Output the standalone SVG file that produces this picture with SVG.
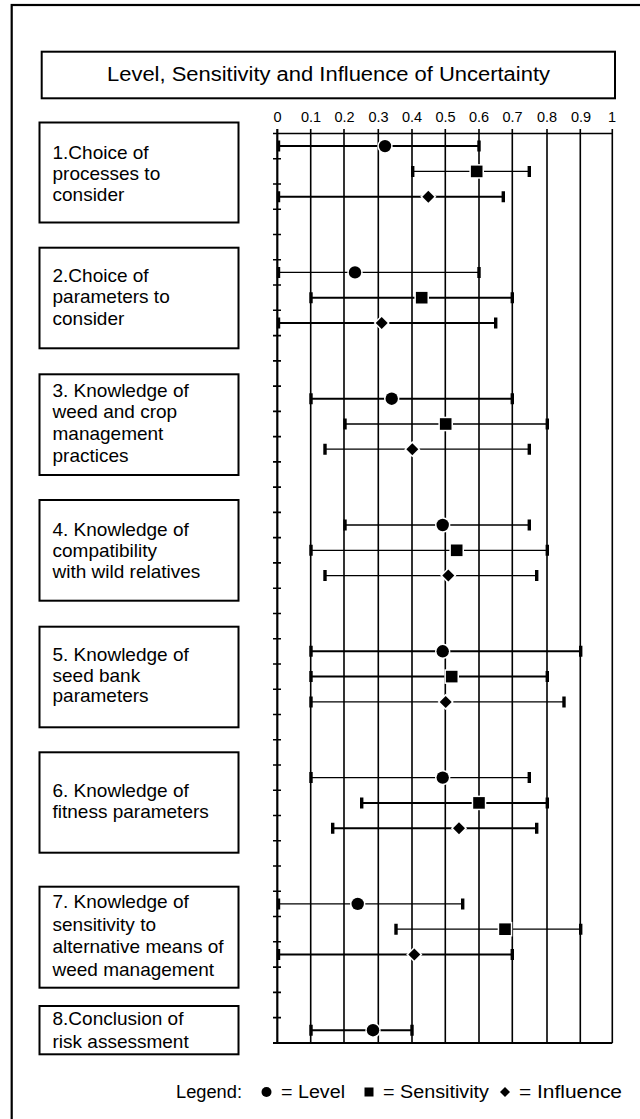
<svg xmlns="http://www.w3.org/2000/svg" width="640" height="1119" viewBox="0 0 640 1119">
<style>
  text { font-family: "Liberation Sans", Arial, Helvetica, sans-serif; fill: #000; }
  .frame { fill: none; stroke: #000; stroke-width: 2.2; }
  .box { fill: #fff; stroke: #000; stroke-width: 2; }
  .lbl { font-size: 19px; }
  .title { font-size: 20px; }
  .ax { font-size: 14.5px; text-anchor: middle; }
  .leg { font-size: 18px; }
  .grid { stroke: #000; stroke-width: 1.6; fill: none; }
  .axis { stroke: #000; stroke-width: 2.2; fill: none; }
  .bar { stroke: #000; stroke-width: 2; }
  .thin { stroke-width: 1.3; }
  .cap { stroke: #000; stroke-width: 3.4; }
</style>
<defs>
  <circle id="m-level" r="6.2" fill="#000" stroke="#fff" stroke-width="3" paint-order="stroke"/>
  <rect id="m-sens" x="-5.8" y="-5.8" width="11.6" height="11.6" fill="#000" stroke="#fff" stroke-width="3" paint-order="stroke"/>
  <path id="m-infl" d="M0,-6 L6,0 L0,6 L-6,0 Z" fill="#000" stroke="#fff" stroke-width="3" paint-order="stroke"/>
</defs>

<rect width="640" height="1119" fill="#fff"/>
<!-- outer frame (right and bottom run past the page edge) -->
<rect class="frame" x="11.7" y="5" width="700" height="1200"/>

<!-- title -->
<g id="title">
  <rect class="box" x="41.7" y="51.7" width="573.3" height="46.6"/>
  <text class="title" x="107" y="81" textLength="443" lengthAdjust="spacingAndGlyphs">Level, Sensitivity and Influence of Uncertainty</text>
</g>

<!-- scale labels -->
<g id="scale-labels">
  <text class="ax" x="277.5" y="121.7">0</text>
  <text class="ax" x="311" y="121.7">0.1</text>
  <text class="ax" x="344.5" y="121.7">0.2</text>
  <text class="ax" x="378.5" y="121.7">0.3</text>
  <text class="ax" x="412" y="121.7">0.4</text>
  <text class="ax" x="445.5" y="121.7">0.5</text>
  <text class="ax" x="479" y="121.7">0.6</text>
  <text class="ax" x="512.5" y="121.7">0.7</text>
  <text class="ax" x="547" y="121.7">0.8</text>
  <text class="ax" x="581" y="121.7">0.9</text>
  <text class="ax" x="612" y="121.7">1</text>
</g>

<!-- grid and axes -->
<g id="grid">
  <path class="grid" d="M310.7,129V1043 M344,129V1043 M378.3,129V1043 M412,129V1043 M445.3,129V1043 M479,129V1043 M512.3,129V1043 M547,129V1043 M580.3,129V1043 M612.3,129V1043"/>
  <path class="axis" d="M277.3,129V1043"/>
  <path class="grid" stroke-width="1.8" d="M273,133.5H612.3"/>
  <path class="axis" d="M273,1043H612.3"/>
  <path class="grid" d="M273,158.76h8 M273,184.02h8 M273,209.28h8 M273,234.54h8 M273,259.8h8 M273,285.06h8 M273,310.32h8 M273,335.58h8 M273,360.84h8 M273,386.1h8 M273,411.36h8 M273,436.62h8 M273,461.88h8 M273,487.14h8 M273,512.4h8 M273,537.66h8 M273,562.92h8 M273,588.18h8 M273,613.44h8 M273,638.7h8 M273,663.96h8 M273,689.22h8 M273,714.48h8 M273,739.74h8 M273,765h8 M273,790.26h8 M273,815.52h8 M273,840.78h8 M273,866.04h8 M273,891.3h8 M273,916.56h8 M273,941.82h8 M273,967.08h8 M273,992.34h8 M273,1017.6h8"/>
</g>

<!-- category boxes -->
<g id="cat-1">
  <rect class="box" x="39.5" y="122.5" width="199" height="100"/>
  <text class="lbl" x="52.5" y="158.5">1.Choice of</text>
  <text class="lbl" x="52.5" y="180">processes to</text>
  <text class="lbl" x="52.5" y="201">consider</text>
</g>
<g id="cat-2">
  <rect class="box" x="39.5" y="247.7" width="199" height="100.6"/>
  <text class="lbl" x="52.5" y="281.7">2.Choice of</text>
  <text class="lbl" x="52.5" y="303.3">parameters to</text>
  <text class="lbl" x="52.5" y="325">consider</text>
</g>
<g id="cat-3">
  <rect class="box" x="39.5" y="374.3" width="199" height="100.7"/>
  <text class="lbl" x="52.5" y="396.7">3. Knowledge of</text>
  <text class="lbl" x="52.5" y="418.3">weed and crop</text>
  <text class="lbl" x="52.5" y="440">management</text>
  <text class="lbl" x="52.5" y="461.7">practices</text>
</g>
<g id="cat-4">
  <rect class="box" x="39.5" y="500" width="199" height="100.7"/>
  <text class="lbl" x="52.5" y="535.7">4. Knowledge of</text>
  <text class="lbl" x="52.5" y="556.7">compatibility</text>
  <text class="lbl" x="52.5" y="577.5">with wild relatives</text>
</g>
<g id="cat-5">
  <rect class="box" x="39.5" y="626.7" width="199" height="100.6"/>
  <text class="lbl" x="52.5" y="661">5. Knowledge of</text>
  <text class="lbl" x="52.5" y="681.7">seed bank</text>
  <text class="lbl" x="52.5" y="702.3">parameters</text>
</g>
<g id="cat-6">
  <rect class="box" x="39.5" y="752.3" width="199" height="100.4"/>
  <text class="lbl" x="52.5" y="796.7">6. Knowledge of</text>
  <text class="lbl" x="52.5" y="817.7">fitness parameters</text>
</g>
<g id="cat-7">
  <rect class="box" x="39.5" y="886.7" width="199" height="101"/>
  <text class="lbl" x="52.5" y="908.3">7. Knowledge of</text>
  <text class="lbl" x="52.5" y="930.5">sensitivity to</text>
  <text class="lbl" x="52.5" y="953">alternative means of</text>
  <text class="lbl" x="52.5" y="975.5">weed management</text>
</g>
<g id="cat-8">
  <rect class="box" x="39.5" y="1006" width="199" height="48.3"/>
  <text class="lbl" x="52.5" y="1025">8.Conclusion of</text>
  <text class="lbl" x="52.5" y="1047.5">risk assessment</text>
</g>

<!-- ranges: bar, end caps, marker -->
<g id="ranges-1">
  <line class="bar" x1="277.3" y1="146.1" x2="479" y2="146.1"/>
  <path class="cap" d="M278.5,140.6v11 M479,140.6v11"/>
  <use href="#m-level" x="385" y="146.1"/>
  <line class="bar thin" x1="412.7" y1="171.4" x2="529.3" y2="171.4"/>
  <path class="cap" d="M412.7,165.9v11 M529.3,165.9v11"/>
  <use href="#m-sens" x="476.7" y="171.4"/>
  <line class="bar" x1="277.3" y1="196.7" x2="503.3" y2="196.7"/>
  <path class="cap" d="M278.5,191.2v11 M503.3,191.2v11"/>
  <use href="#m-infl" x="428.3" y="196.7"/>
</g>
<g id="ranges-2">
  <line class="bar thin" x1="277.3" y1="272.4" x2="479" y2="272.4"/>
  <path class="cap" d="M278.5,266.9v11 M479,266.9v11"/>
  <use href="#m-level" x="355" y="272.4"/>
  <line class="bar" x1="311" y1="297.7" x2="512.3" y2="297.7"/>
  <path class="cap" d="M311,292.2v11 M512.3,292.2v11"/>
  <use href="#m-sens" x="421.7" y="297.7"/>
  <line class="bar" x1="277.3" y1="323" x2="495.7" y2="323"/>
  <path class="cap" d="M278.5,317.5v11 M495.7,317.5v11"/>
  <use href="#m-infl" x="381.7" y="323"/>
</g>
<g id="ranges-3">
  <line class="bar" x1="311" y1="398.7" x2="512.3" y2="398.7"/>
  <path class="cap" d="M311,393.2v11 M512.3,393.2v11"/>
  <use href="#m-level" x="391.7" y="398.7"/>
  <line class="bar thin" x1="345" y1="424" x2="547.3" y2="424"/>
  <path class="cap" d="M345,418.5v11 M547.3,418.5v11"/>
  <use href="#m-sens" x="445.7" y="424"/>
  <line class="bar thin" x1="325" y1="449.2" x2="529.3" y2="449.2"/>
  <path class="cap" d="M325,443.7v11 M529.3,443.7v11"/>
  <use href="#m-infl" x="412.3" y="449.2"/>
</g>
<g id="ranges-4">
  <line class="bar thin" x1="345" y1="525" x2="529.3" y2="525"/>
  <path class="cap" d="M345,519.5v11 M529.3,519.5v11"/>
  <use href="#m-level" x="442.7" y="525"/>
  <line class="bar thin" x1="311" y1="550.3" x2="547.3" y2="550.3"/>
  <path class="cap" d="M311,544.8v11 M547.3,544.8v11"/>
  <use href="#m-sens" x="456.7" y="550.3"/>
  <line class="bar thin" x1="325" y1="575.6" x2="536.7" y2="575.6"/>
  <path class="cap" d="M325,570.1v11 M536.7,570.1v11"/>
  <use href="#m-infl" x="448.3" y="575.6"/>
</g>
<g id="ranges-5">
  <line class="bar" x1="311" y1="651.3" x2="580.7" y2="651.3"/>
  <path class="cap" d="M311,645.8v11 M580.7,645.8v11"/>
  <use href="#m-level" x="442.7" y="651.3"/>
  <line class="bar" x1="311" y1="676.6" x2="547.3" y2="676.6"/>
  <path class="cap" d="M311,671.1v11 M547.3,671.1v11"/>
  <use href="#m-sens" x="451.7" y="676.6"/>
  <line class="bar thin" x1="311" y1="701.9" x2="564" y2="701.9"/>
  <path class="cap" d="M311,696.4v11 M564,696.4v11"/>
  <use href="#m-infl" x="445.7" y="701.9"/>
</g>
<g id="ranges-6">
  <line class="bar thin" x1="311" y1="777.6" x2="529.3" y2="777.6"/>
  <path class="cap" d="M311,772.1v11 M529.3,772.1v11"/>
  <use href="#m-level" x="442.7" y="777.6"/>
  <line class="bar" x1="361.7" y1="802.9" x2="547.3" y2="802.9"/>
  <path class="cap" d="M361.7,797.4v11 M547.3,797.4v11"/>
  <use href="#m-sens" x="479" y="802.9"/>
  <line class="bar" x1="332.7" y1="828.2" x2="536.7" y2="828.2"/>
  <path class="cap" d="M332.7,822.7v11 M536.7,822.7v11"/>
  <use href="#m-infl" x="459" y="828.2"/>
</g>
<g id="ranges-7">
  <line class="bar thin" x1="277.3" y1="903.9" x2="462.7" y2="903.9"/>
  <path class="cap" d="M278.5,898.4v11 M462.7,898.4v11"/>
  <use href="#m-level" x="357.7" y="903.9"/>
  <line class="bar thin" x1="396" y1="929.2" x2="580.7" y2="929.2"/>
  <path class="cap" d="M396,923.7v11 M580.7,923.7v11"/>
  <use href="#m-sens" x="505" y="929.2"/>
  <line class="bar" x1="277.3" y1="954.5" x2="512.3" y2="954.5"/>
  <path class="cap" d="M278.5,949v11 M512.3,949v11"/>
  <use href="#m-infl" x="414.3" y="954.5"/>
</g>
<g id="ranges-8">
  <line class="bar" x1="311" y1="1030.2" x2="412" y2="1030.2"/>
  <path class="cap" d="M311,1024.7v11 M412,1024.7v11"/>
  <use href="#m-level" x="373" y="1030.2"/>
</g>

<!-- legend -->
<g id="legend">
  <text class="leg" x="176" y="1097.5" textLength="66" lengthAdjust="spacingAndGlyphs">Legend:</text>
  <circle cx="266.5" cy="1092" r="5"/>
  <text class="leg" x="281" y="1097.5" textLength="64" lengthAdjust="spacingAndGlyphs">= Level</text>
  <rect x="364.5" y="1087.5" width="9" height="9"/>
  <text class="leg" x="383" y="1097.5" textLength="106" lengthAdjust="spacingAndGlyphs">= Sensitivity</text>
  <path d="M505,1087 L510,1092 L505,1097 L500,1092 Z"/>
  <text class="leg" x="519" y="1097.5" textLength="103" lengthAdjust="spacingAndGlyphs">= Influence</text>
</g>
</svg>
